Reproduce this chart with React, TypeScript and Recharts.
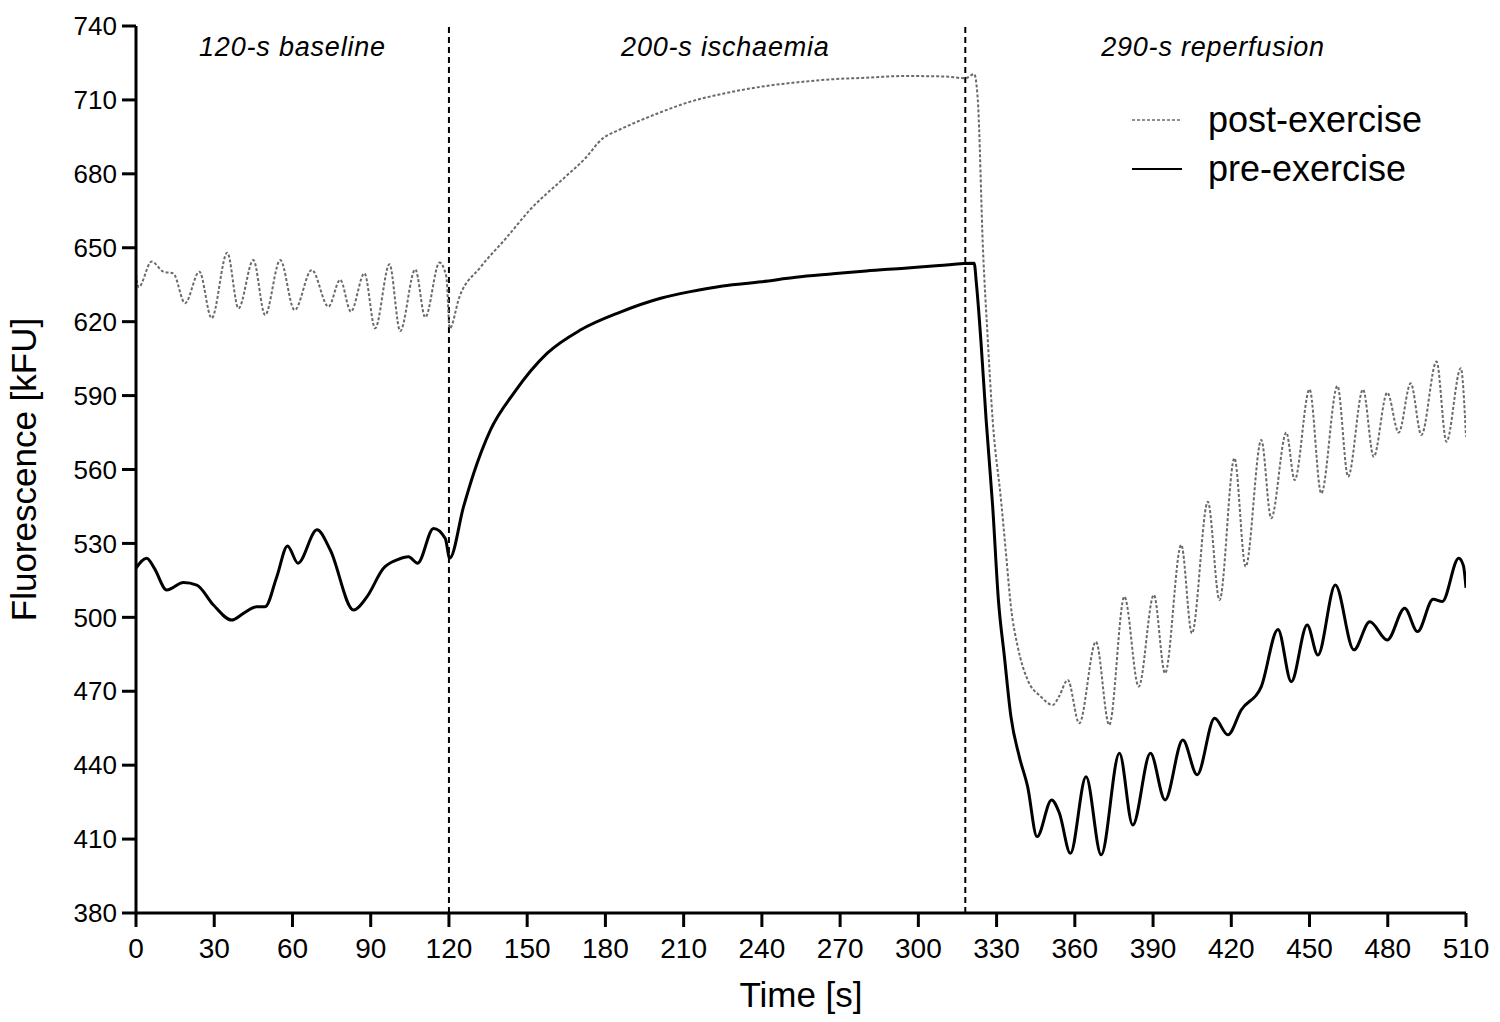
import React from 'react';
import {
  LineChart,
  Line,
  XAxis,
  YAxis,
  ReferenceLine,
  ReferenceDot,
  Legend,
} from 'recharts';

const FONT = '"Liberation Sans", Arial, Helvetica, sans-serif';

// ---- data ----
const postTime = [
  0, 1, 6, 10.5, 14.3, 18.8, 24.3, 29, 35, 39.3, 45, 49.5, 55.3, 60.8, 67.4, 73.8, 78.3, 82.4,
  87.6, 91.7, 97.2, 101.3, 107.1, 110.9, 116.4, 119, 120.3, 124, 132, 142, 151, 163.3, 172, 179,
  185.2, 200, 212.6, 225, 239.9, 255, 267.3, 280, 294.7, 310, 318, 321.4, 322.8, 324.8, 326.5,
  328.5, 331.7, 333.6, 335.5, 338.1, 341.9, 347, 351.5, 354, 357.3, 361.7, 368.1, 373.2, 379,
  384.5, 390.3, 394.6, 400.8, 404.9, 411, 415.5, 421.2, 425.5, 431.5, 435.3, 441.1, 444.3, 450,
  454.5, 460.7, 464.8, 470.5, 474.6, 479.8, 484.2, 488.8, 492.9, 498.7, 502.5, 508, 510,
];
const postValue = [
  639, 634, 644.4, 640.3, 639.6, 627.5, 640.3, 621.4, 648, 625.4, 645, 622.7, 645, 624.7, 641,
  626.1, 637, 624.1, 639.6, 617.3, 643.3, 616.2, 641.2, 621.8, 644, 638.3, 617.3, 630, 642, 654,
  665.3, 677.5, 686, 694.4, 697.8, 704.5, 709.3, 712.5, 715.4, 717.3, 718.4, 719, 719.7, 719.5,
  718.8, 720.5, 710, 649, 615, 580, 547.6, 526, 504.3, 488.1, 474.6, 467.8, 464.4, 468, 474.6,
  457, 490.1, 456.3, 508.4, 471.9, 509.1, 477.3, 529.4, 493.5, 546.9, 507, 564.6, 520.6, 572,
  540.2, 575, 555.7, 592.5, 550.3, 593.9, 557.1, 592.5, 565.2, 591.2, 575, 595, 574, 603.8,
  571.3, 601.1, 573.3,
];

const preTime = [
  0, 4.1, 7, 11.8, 18.2, 23.3, 29.7, 36.7, 41.2, 46.3, 49.5, 54, 58.1, 62.1, 69.4, 74.5, 83.4,
  88.6, 94.9, 100.1, 104.5, 108, 114.1, 118.6, 120.3, 125.6, 129.5, 135.9, 144.8, 157.7, 170.4,
  185.5, 201.2, 212.6, 225, 239.9, 253, 267.3, 280, 294.7, 308, 321.4, 322.3, 324, 326, 328.5,
  330.7, 333, 335.5, 338.7, 341.9, 345.5, 351.1, 354.1, 358.3, 364.3, 370.1, 377.1, 382.2, 389,
  394.6, 401.4, 406.9, 413.6, 418.7, 423.8, 431.5, 437.9, 443, 449.1, 453.2, 459.9, 467, 473.1,
  479.8, 486.5, 491.4, 497.4, 500.9, 507.2, 509, 510,
];
const preValue = [
  520, 524, 520, 511.1, 514.1, 513.1, 505, 498.9, 501.6, 504.3, 504.3, 516.5, 529, 522, 535.5,
  527.3, 503, 508.4, 519.9, 523.3, 524.6, 522, 536.1, 532, 524, 544.9, 558.5, 576, 590.9, 607.2,
  616.6, 623.8, 629.5, 632.2, 634.5, 636.2, 638, 639.4, 640.6, 641.7, 642.8, 643.7, 635, 612,
  580, 545, 507, 484, 459.7, 443.5, 431.3, 411, 425.9, 420.5, 404.2, 435.3, 403.6, 444.8, 415.7,
  444.8, 425.9, 450.2, 436.1, 459, 452.3, 462.4, 471.9, 495.1, 473.9, 496.9, 484.7, 513.1,
  486.8, 498.2, 490.8, 503.7, 494.2, 507.3, 506.4, 524, 521, 512,
];

const xTicks = [0, 30, 60, 90, 120, 150, 180, 210, 240, 270, 300, 330, 360, 390, 420, 450, 480, 510];
const yTicks = [380, 410, 440, 470, 500, 530, 560, 590, 620, 650, 680, 710, 740];
const phaseBoundaries = [120, 318];
const phaseLabels = ['120-s baseline', '200-s ischaemia', '290-s reperfusion'];
const phaseLabelCenters = [60, 226, 413];
const seriesNames = ['post-exercise', 'pre-exercise'];

const postData = postTime.map((t, i) => ({ t, v: postValue[i] }));
const preData = preTime.map((t, i) => ({ t, v: preValue[i] }));

const POST_COLOR = '#6a6a6a';
const PRE_COLOR = '#000000';

const LegendContent = () => {
  const items = [
    { name: seriesNames[0], color: POST_COLOR, dash: '3 2', width: 1.5 },
    { name: seriesNames[1], color: PRE_COLOR, dash: undefined, width: 2 },
  ];
  return (
    <div style={{ fontFamily: FONT, fontSize: 36, color: '#000' }}>
      {items.map((it) => (
        <div key={it.name} style={{ display: 'flex', alignItems: 'center', height: 49 }}>
          <svg width={50} height={10} style={{ display: 'block' }}>
            <line x1={0} y1={5} x2={50} y2={5} stroke={it.color} strokeWidth={it.width} strokeDasharray={it.dash} />
          </svg>
          <span style={{ marginLeft: 26, lineHeight: '49px' }}>{it.name}</span>
        </div>
      ))}
    </div>
  );
};

export default function App() {
  return (
    <div style={{ position: 'absolute', left: 0, top: 0, width: 1500, height: 1022, background: '#fff' }}>
      <LineChart
        width={1500}
        height={1022}
        margin={{ top: 26, right: 34, bottom: 9, left: 16 }}
      >
        <XAxis
          dataKey="t"
          type="number"
          domain={[0, 510]}
          ticks={xTicks}
          allowDataOverflow
          axisLine={{ stroke: '#000', strokeWidth: 3 }}
          tickLine={{ stroke: '#000', strokeWidth: 3 }}
          tickSize={14}
          tickMargin={11}
          height={100}
          tick={{ fontSize: 28, fill: '#000', fontFamily: FONT }}
          label={{
            value: 'Time [s]',
            position: 'insideBottom',
            offset: 6,
            style: { fontSize: 35, fill: '#000', fontFamily: FONT },
          }}
        />
        <YAxis
          type="number"
          domain={[380, 740]}
          ticks={yTicks}
          allowDataOverflow
          axisLine={{ stroke: '#000', strokeWidth: 3 }}
          tickLine={{ stroke: '#000', strokeWidth: 3 }}
          tickSize={14}
          tickMargin={5}
          width={120}
          tick={{ fontSize: 26, fill: '#000', fontFamily: FONT }}
          label={{
            value: 'Fluorescence [kFU]',
            angle: -90,
            position: 'insideLeft',
            offset: 8,
            style: { fontSize: 35, fill: '#000', fontFamily: FONT, textAnchor: 'middle' },
          }}
        />
        {phaseBoundaries.map((b) => (
          <ReferenceLine key={b} x={b} stroke="#000" strokeWidth={2} strokeDasharray="6 4" />
        ))}
        {phaseLabels.map((txt, i) => (
          <ReferenceDot
            key={txt}
            x={phaseLabelCenters[i]}
            y={740}
            r={0}
            fill="none"
            stroke="none"
            label={{
              value: txt,
              position: 'bottom',
              offset: 11,
              style: {
                fontSize: 27,
                fill: '#000',
                fontFamily: FONT,
                fontStyle: 'italic',
                letterSpacing: 0.8,
              },
            }}
          />
        ))}
        <Line
          data={postData}
          dataKey="v"
          name={seriesNames[0]}
          type="monotoneX"
          stroke={POST_COLOR}
          strokeWidth={2}
          strokeDasharray="3 2"
          dot={false}
          activeDot={false}
          isAnimationActive={false}
        />
        <Line
          data={preData}
          dataKey="v"
          name={seriesNames[1]}
          type="monotoneX"
          stroke={PRE_COLOR}
          strokeWidth={3}
          dot={false}
          activeDot={false}
          isAnimationActive={false}
        />
        <Legend
          layout="vertical"
          align="center"
          verticalAlign="middle"
          content={<LegendContent />}
          wrapperStyle={{ position: 'absolute', top: 95, left: 1132, width: 320, height: 100 }}
        />
      </LineChart>
    </div>
  );
}
